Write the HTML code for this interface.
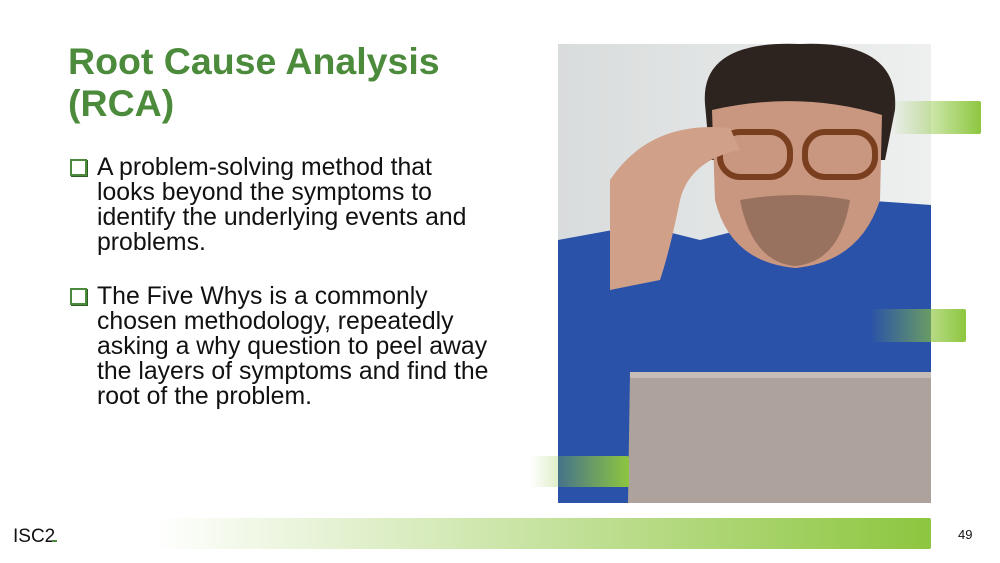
<!DOCTYPE html>
<html><head><meta charset="utf-8"><style>
body{margin:0;width:1000px;height:563px;overflow:hidden;background:#fff;font-family:"Liberation Sans",Arial,sans-serif;position:relative}
.t{position:absolute;left:68px;top:40px;color:#4b8b3b;font-weight:bold;font-size:37.5px;line-height:42px;margin:0}
.b{position:absolute;left:70px;width:460px;font-size:24.8px;line-height:25px;color:#111}
.b span.box{position:absolute;left:0;top:4px;width:13px;height:13px;border:2px solid #4b8b3b;background:#fff;box-shadow:1px 1px 0 #2d5e22}
.b p{margin:0 0 0 27px}
</style></head><body>
<h1 class="t">Root Cause Analysis<br>(RCA)</h1>
<div class="b" style="top:155px"><span class="box"></span><p>A problem-solving method that<br>looks beyond the symptoms to<br>identify the underlying events and<br>problems.</p></div>
<div class="b" style="top:284px"><span class="box"></span><p>The Five Whys is a commonly<br>chosen methodology, repeatedly<br>asking a why question to peel away<br>the layers of symptoms and find the<br>root of the problem.</p></div>
<svg style="position:absolute;left:0;top:0" width="1000" height="563">
<defs>
<linearGradient id="g1" x1="0" x2="1"><stop offset="0" stop-color="#8dc63f" stop-opacity="0"/><stop offset="1" stop-color="#8dc63f"/></linearGradient>
<linearGradient id="g2" x1="0" x2="1"><stop offset="0" stop-color="#8dc63f" stop-opacity="0"/><stop offset="1" stop-color="#8dc63f"/></linearGradient>
<linearGradient id="bg" x1="0" x2="1"><stop offset="0" stop-color="#d9dcdc"/><stop offset="1" stop-color="#eef0f0"/></linearGradient>
</defs>
<g>
<rect x="558" y="44" width="373" height="459" fill="url(#bg)"/>
<path d="M558 240 L640 225 L700 240 L860 200 L931 205 L931 503 L558 503Z" fill="#2a52a8"/>
<path d="M705 104 Q700 40 800 44 Q900 40 895 110 L885 160 L710 160Z" fill="#2e241f"/>
<path d="M712 110 Q800 90 882 115 L880 200 Q860 262 795 268 Q730 262 715 200Z" fill="#c99680"/>
<path d="M740 200 Q795 190 850 200 Q840 262 795 266 Q752 262 740 200Z" fill="#7a5a4a" opacity="0.6"/>
<rect x="720" y="132" width="70" height="45" rx="20" fill="none" stroke="#7a3f1e" stroke-width="6"/>
<rect x="805" y="132" width="70" height="45" rx="20" fill="none" stroke="#7a3f1e" stroke-width="6"/>
<path d="M610 180 Q650 120 730 128 L740 150 Q690 160 680 200 Q670 250 660 280 L610 290Z" fill="#d0a088"/>
<path d="M630 372 L931 372 L931 503 L628 503Z" fill="#ada39c"/>
<rect x="630" y="372" width="301" height="6" fill="#c5bdb6"/>
</g>
<rect x="891" y="101" width="90" height="33" rx="2" fill="url(#g1)"/>
<rect x="870" y="309" width="96" height="33" rx="2" fill="url(#g1)"/>
<rect x="530" y="456" width="99" height="31" rx="2" fill="url(#g1)"/>
<rect x="155" y="518" width="776" height="31" rx="2" fill="url(#g2)"/>
<text x="13" y="542" font-size="19" fill="#111" font-family="Liberation Sans">ISC2</text>
<rect x="52" y="540" width="5" height="2" fill="#4b8b3b"/>
<text x="958" y="539" font-size="13" fill="#111" font-family="Liberation Sans">49</text>
</svg>
</body></html>
